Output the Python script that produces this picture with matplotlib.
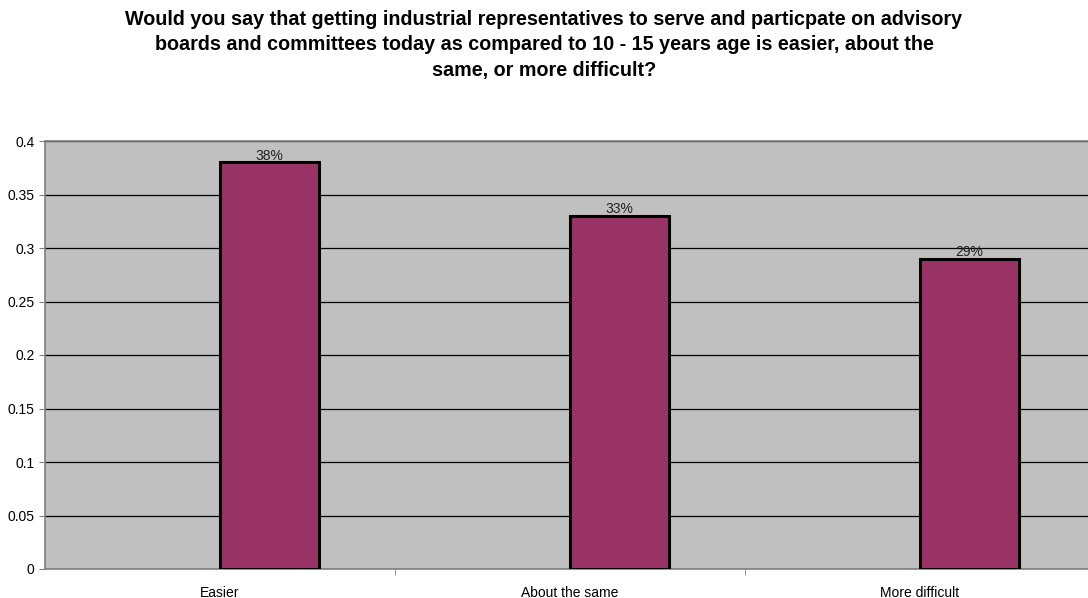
import matplotlib
matplotlib.use("Agg")
import matplotlib.pyplot as plt
import numpy as np

categories = ["Easier", "About the same", "More difficult"]
values = [0.38, 0.33, 0.29]
labels = ["38%", "33%", "29%"]

plt.rcParams['font.family'] = ['Liberation Sans', 'DejaVu Sans']

fig = plt.figure(figsize=(10.88, 5.98), dpi=100)
ax = fig.add_axes([45 / 1088, 29 / 598, 1050 / 1088, 428 / 598])
ax.set_facecolor('#C0C0C0')

x = np.arange(len(categories))
bw = 0.283
ax.bar(x, values, bw, align='edge', color='#993366', edgecolor='black',
       linewidth=2.2, zorder=3)
for i, v in enumerate(values):
    ax.text(x[i] + bw / 2, v + 0.006, labels[i], ha='center', va='center',
            fontsize=10, color='#222222', zorder=4)

ax.set_xlim(-0.5, 2.5)
ax.set_ylim(0, 0.4)
ax.set_yticks(np.arange(0, 0.401, 0.05))
ax.set_yticklabels(['0', '0.05', '0.1', '0.15', '0.2', '0.25', '0.3', '0.35', '0.4'])
ax.yaxis.grid(True, color='black', linewidth=0.9, zorder=1)
ax.set_axisbelow(True)

ax.set_xticks(x)
ax.set_xticklabels(categories)
ax.set_xticks([0.5, 1.5], minor=True)
ax.tick_params(axis='x', which='major', length=0, pad=12, labelsize=10)
ax.tick_params(axis='x', which='minor', length=4, color='#808080')
ax.tick_params(axis='y', length=4.5, color='#808080', labelsize=10, pad=3)

for side in ['top', 'right', 'left', 'bottom']:
    ax.spines[side].set_color('#808080')
    ax.spines[side].set_linewidth(1.2)

fig.text(0.5, 1 - 45 / 598,
         "Would you say that getting industrial representatives to serve and particpate on advisory\n"
         "boards and committees today as compared to 10 - 15 years age is easier, about the\n"
         "same, or more difficult?",
         ha='center', va='center', fontsize=14.2, fontweight='bold',
         linespacing=1.42)

fig.savefig('out.png', dpi=100)
